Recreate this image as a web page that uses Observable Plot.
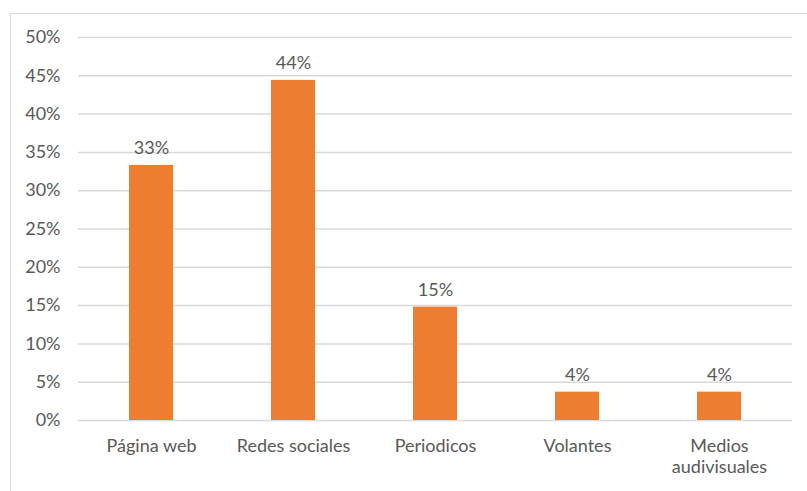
<!DOCTYPE html>
<html>
<head>
<meta charset="utf-8">
<script src="https://cdn.jsdelivr.net/npm/d3@7"></script>
<script src="https://cdn.jsdelivr.net/npm/@observablehq/plot@0.6"></script>
<style>
  html, body { margin: 0; padding: 0; background: #fff; overflow: hidden; }
  #wrap { position: relative; width: 807px; height: 491px; }
  #frame { position: absolute; left: 10px; top: 13px; width: 820px; height: 520px; border: 1.5px solid #d9d9d9; box-sizing: border-box; }
  #chart { position: absolute; left: 0; top: 0; }
</style>
</head>
<body>
<div id="wrap"><div id="frame"></div><div id="chart"></div></div>
<script>
const categories = ["Página web", "Redes sociales", "Periodicos", "Volantes", "Medios audivisuales"];
const tickLabels = ["Página web", "Redes sociales", "Periodicos", "Volantes", "Medios\naudivisuales"];
const values = [0.333, 0.444, 0.148, 0.037, 0.037];
const yTicks = [0, 0.05, 0.10, 0.15, 0.20, 0.25, 0.30, 0.35, 0.40, 0.45, 0.50];

const data = categories.map((c, i) => ({category: c, value: values[i]}));
const labelOf = new Map(categories.map((c, i) => [c, tickLabels[i]]));

const chart = Plot.plot({
  width: 807,
  height: 491,
  marginLeft: 78,
  marginRight: 15,
  marginTop: 37,
  marginBottom: 71,
  style: {fontFamily: "Lato, 'Open Sans', sans-serif", fontSize: "18px", color: "#595959", background: "transparent"},
  x: {domain: categories, paddingInner: 0.69, paddingOuter: 0.345, label: null},
  y: {domain: [0, 0.5], label: null},
  marks: [
    Plot.gridY(yTicks, {stroke: "#d9d9d9", strokeOpacity: 1, strokeWidth: 1.5}),
    Plot.barY(data, {x: "category", y: "value", fill: "#ED7D31"}),
    Plot.text(data, {x: "category", y: "value", text: d => Math.round(d.value * 100) + "%", dy: -11, lineAnchor: "bottom", fill: "#595959", fontSize: 18}),
    Plot.axisY(yTicks, {tickSize: 0, tickPadding: 18, tickFormat: d => Math.round(d * 100) + "%", fill: "#595959", fontSize: 18}),
    Plot.axisX({tickSize: 0, tickPadding: 16, lineHeight: 1.2, tickFormat: d => labelOf.get(d), fill: "#595959", fontSize: 18})
  ]
});
document.getElementById("chart").appendChild(chart);
</script>
</body>
</html>
